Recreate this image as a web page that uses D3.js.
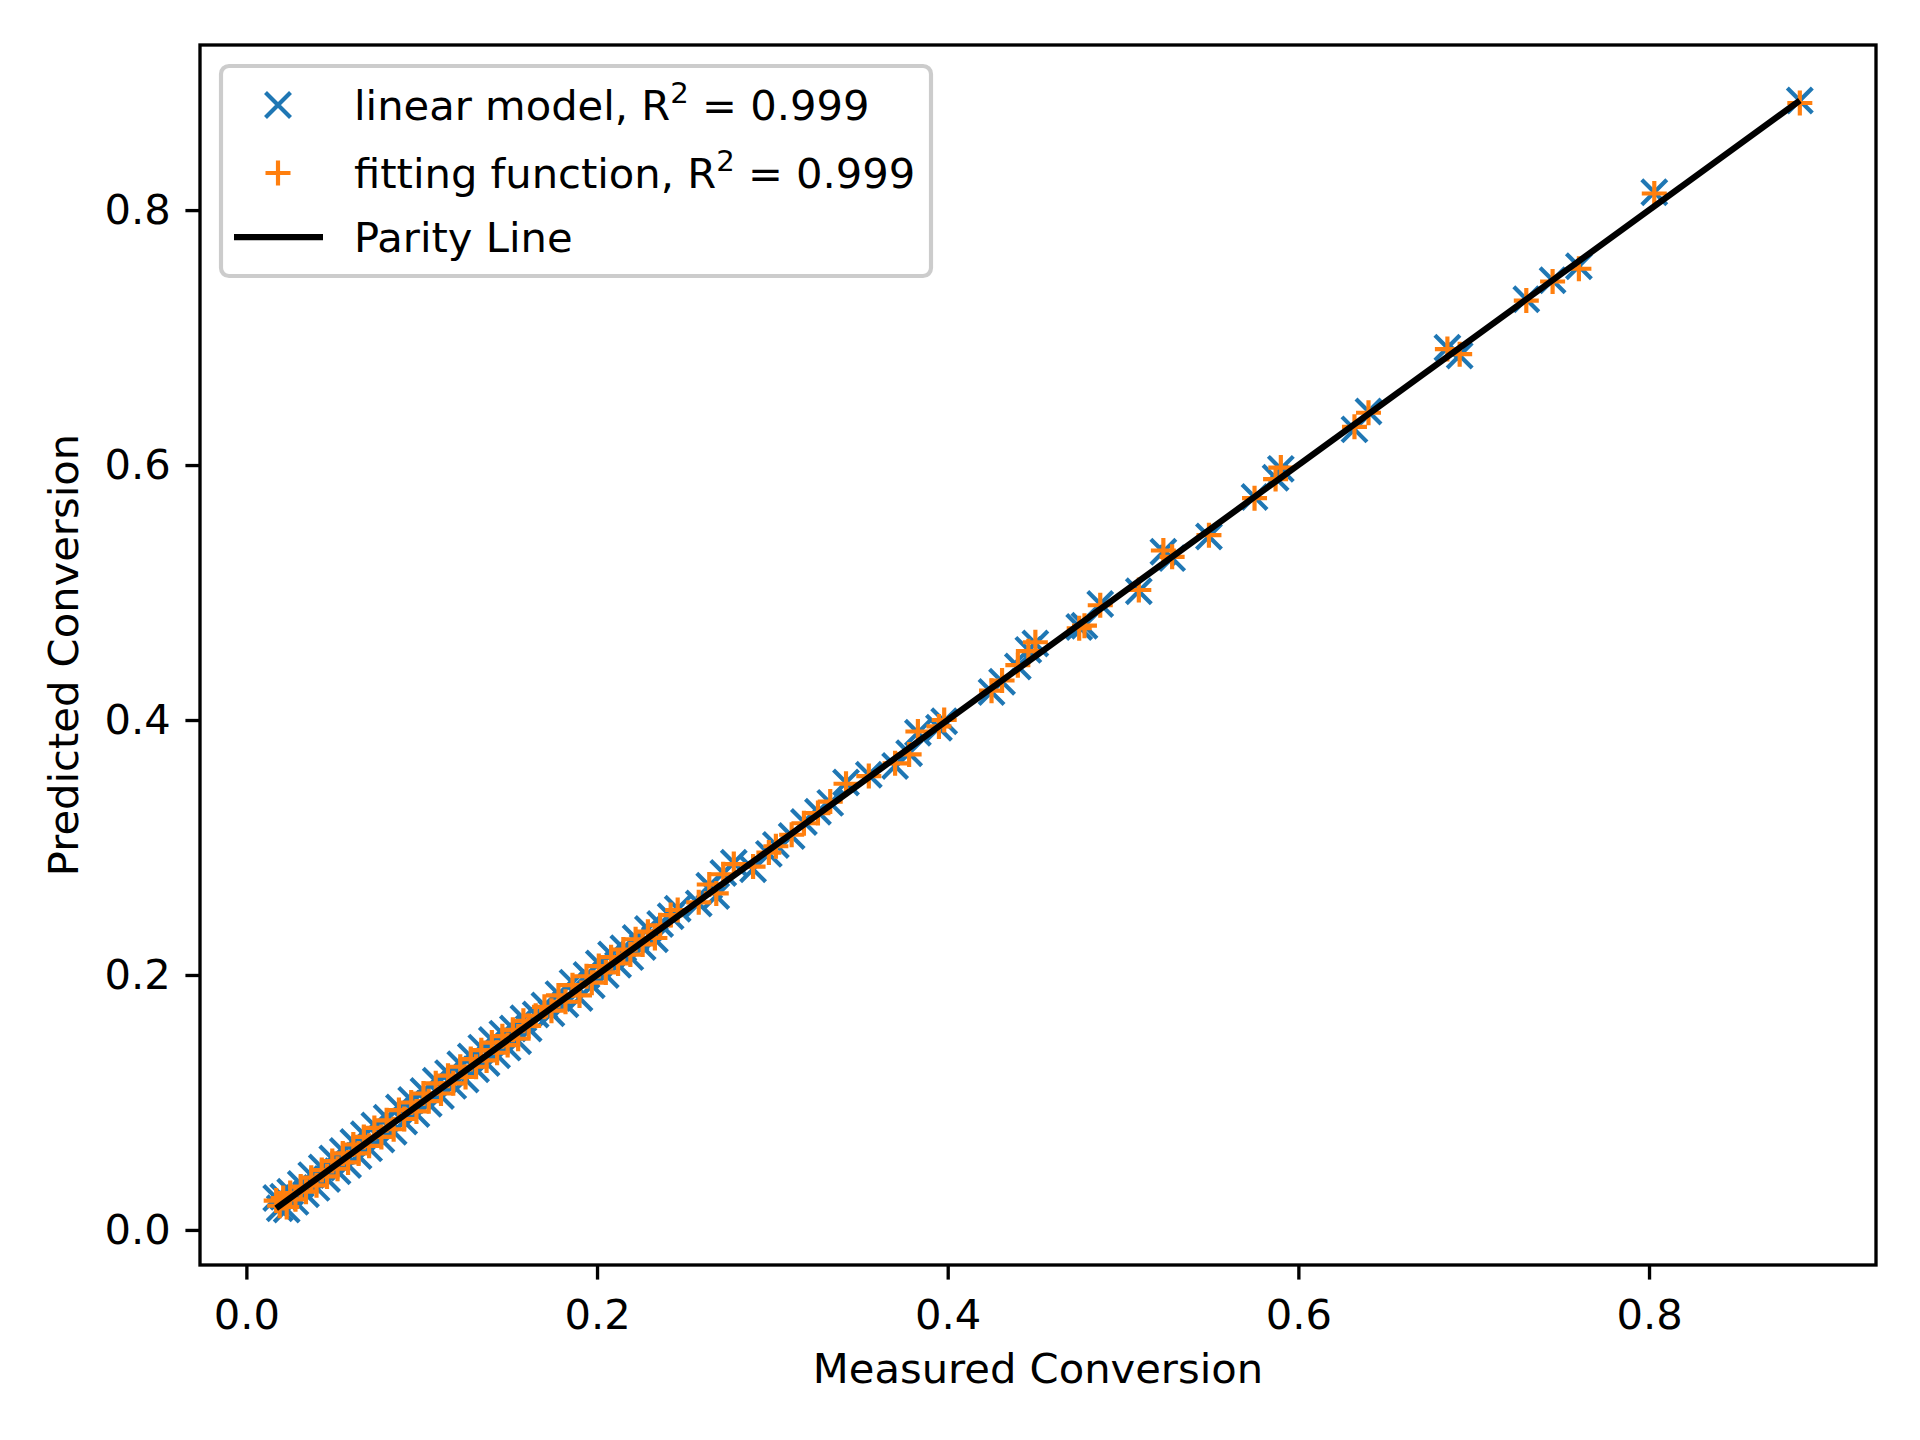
<!DOCTYPE html>
<html>
<head>
<meta charset="utf-8">
<script src="https://cdn.jsdelivr.net/npm/d3@7"></script>
<style>
  body { margin: 0; background: #fff; }
  text { font-family: "DejaVu Sans", sans-serif; fill: #000; }
</style>
</head>
<body>
<div id="chart"></div>
<script>
// Measured conversion (x) and the two predictions (y)
const measured = [
  0.886, 0.803, 0.760, 0.745, 0.730, 0.692, 0.685, 0.640, 0.632, 0.590,
  0.587, 0.575, 0.549, 0.528, 0.523, 0.509, 0.487, 0.478, 0.475, 0.450,
  0.446, 0.440, 0.431, 0.425, 0.398, 0.395, 0.383, 0.378, 0.370, 0.355,
  0.342, 0.333, 0.326, 0.318, 0.311, 0.302, 0.298, 0.289, 0.278, 0.272,
  0.264, 0.268, 0.258, 0.246, 0.242,
  0.236, 0.233, 0.229, 0.226, 0.222, 0.219, 0.215, 0.212, 0.208, 0.205,
  0.201, 0.197, 0.194, 0.190, 0.186, 0.182, 0.178, 0.174, 0.170, 0.165,
  0.161, 0.158, 0.155, 0.152, 0.149, 0.146, 0.143, 0.140, 0.137, 0.134,
  0.131, 0.128, 0.125, 0.122, 0.118, 0.115, 0.111, 0.108, 0.104, 0.101,
  0.097, 0.094, 0.090, 0.087, 0.084, 0.080, 0.077, 0.073, 0.070, 0.067,
  0.064, 0.061, 0.058, 0.055, 0.052, 0.049, 0.046, 0.043, 0.040, 0.037,
  0.034, 0.031, 0.028, 0.025, 0.023, 0.021, 0.019, 0.017
];
const linearPred = [
  0.886, 0.814, 0.756, 0.745, 0.730, 0.686, 0.692, 0.642, 0.628, 0.597,
  0.590, 0.575, 0.544, 0.527, 0.532, 0.501, 0.491, 0.474, 0.473, 0.460,
  0.455, 0.442, 0.430, 0.422, 0.399, 0.394, 0.390, 0.374, 0.364, 0.357,
  0.351, 0.335, 0.328, 0.320, 0.309, 0.302, 0.295, 0.283, 0.288, 0.280,
  0.270, 0.262, 0.256, 0.252, 0.246,
  0.240, 0.228, 0.236, 0.222, 0.229, 0.214, 0.221, 0.208, 0.216, 0.200,
  0.209, 0.192, 0.200, 0.182, 0.194, 0.177, 0.185, 0.170, 0.176, 0.169,
  0.158, 0.166, 0.148, 0.158, 0.143, 0.154, 0.137, 0.149, 0.131, 0.143,
  0.126, 0.136, 0.118, 0.130, 0.113, 0.123, 0.105, 0.117, 0.099, 0.109,
  0.091, 0.102, 0.085, 0.096, 0.077, 0.088, 0.071, 0.082, 0.064, 0.075,
  0.058, 0.069, 0.051, 0.062, 0.046, 0.056, 0.040, 0.049, 0.033, 0.043,
  0.028, 0.036, 0.022, 0.030, 0.016, 0.026, 0.017, 0.025
];
const fittingPred = [
  0.884, 0.813, 0.754, 0.744, 0.729, 0.687, 0.691, 0.641, 0.630, 0.598,
  0.589, 0.574, 0.545, 0.528, 0.533, 0.502, 0.490, 0.474, 0.472, 0.461,
  0.454, 0.443, 0.431, 0.423, 0.400, 0.395, 0.391, 0.373, 0.366, 0.356,
  0.350, 0.336, 0.327, 0.319, 0.310, 0.301, 0.296, 0.285, 0.287, 0.279,
  0.271, 0.264, 0.257, 0.251, 0.247,
  0.239, 0.229, 0.234, 0.224, 0.228, 0.216, 0.220, 0.209, 0.214, 0.202,
  0.207, 0.194, 0.199, 0.184, 0.192, 0.179, 0.184, 0.172, 0.175, 0.168,
  0.160, 0.164, 0.150, 0.157, 0.145, 0.152, 0.139, 0.147, 0.133, 0.141,
  0.128, 0.134, 0.120, 0.128, 0.115, 0.121, 0.107, 0.115, 0.101, 0.107,
  0.093, 0.100, 0.087, 0.094, 0.079, 0.086, 0.073, 0.080, 0.066, 0.073,
  0.060, 0.067, 0.053, 0.060, 0.048, 0.054, 0.042, 0.047, 0.035, 0.041,
  0.030, 0.034, 0.024, 0.029, 0.018, 0.025, 0.019, 0.023
];
const xTicks = [0.0, 0.2, 0.4, 0.6, 0.8];
const yTicks = [0.0, 0.2, 0.4, 0.6, 0.8];
const legendLabels = ['linear model, R', 'fitting function, R', 'Parity Line'];
const rSquared = ['0.999', '0.999'];

const W = 1920, H = 1440;
const pt = 300 / 72;  // figure was saved at 300 dpi
const margin = { left: 200, right: 1876, top: 45, bottom: 1265 };
const blue = '#1f77b4', orange = '#ff7f0e';

const svg = d3.select('#chart').append('svg')
  .attr('width', W).attr('height', H)
  .style('background', '#fff');

// matplotlib-like 5% margins around the data
function padded(vals) {
  const [lo, hi] = d3.extent(vals);
  const m = (hi - lo) * 0.05;
  return [lo - m, hi + m];
}

const x = d3.scaleLinear().domain(padded(measured)).range([margin.left, margin.right]);
const y = d3.scaleLinear().domain(padded(linearPred.concat(fittingPred))).range([margin.bottom, margin.top]);

const points = measured.map((m, i) => ({ m, lin: linearPred[i], fit: fittingPred[i] }));

const ms = 3 * pt;     // marker half size (6pt marker)
const mew = 1 * pt;    // marker edge width

const crossPath = s => `M${-s},${-s}L${s},${s}M${-s},${s}L${s},${-s}`;
const plusPath = s => `M${-s},0L${s},0M0,${-s}L0,${s}`;

const plot = svg.append('g');
plot.append('clipPath').attr('id', 'clip').append('rect')
  .attr('x', margin.left).attr('y', margin.top)
  .attr('width', margin.right - margin.left).attr('height', margin.bottom - margin.top);

const inner = plot.append('g').attr('clip-path', 'url(#clip)');

// linear model (x markers)
inner.append('g').selectAll('path')
  .data(points).join('path')
  .attr('transform', d => `translate(${x(d.m)},${y(d.lin)})`)
  .attr('d', crossPath(ms))
  .attr('stroke', blue).attr('stroke-width', mew).attr('fill', 'none');

// fitting function (+ markers)
inner.append('g').selectAll('path')
  .data(points).join('path')
  .attr('transform', d => `translate(${x(d.m)},${y(d.fit)})`)
  .attr('d', plusPath(ms))
  .attr('stroke', orange).attr('stroke-width', mew).attr('fill', 'none');

// parity line
const ext = d3.extent(measured);
inner.append('path')
  .datum(ext)
  .attr('d', d3.line().x(d => x(d)).y(d => y(d)))
  .attr('stroke', '#000').attr('stroke-width', 1.5 * pt).attr('fill', 'none');

// axes
const tickLen = 3.5 * pt, tickPad = 3.5 * pt, fs = 10 * pt;
const xAxis = d3.axisBottom(x).tickValues(xTicks).tickFormat(d3.format('.1f'))
  .tickSize(tickLen).tickPadding(tickPad + 5);
const yAxis = d3.axisLeft(y).tickValues(yTicks).tickFormat(d3.format('.1f'))
  .tickSize(tickLen).tickPadding(tickPad);

const gx = svg.append('g').attr('transform', `translate(0,${margin.bottom})`).call(xAxis);
const gy = svg.append('g').attr('transform', `translate(${margin.left},0)`).call(yAxis);
[gx, gy].forEach(g => {
  g.select('.domain').remove();
  g.selectAll('.tick line').attr('stroke', '#000').attr('stroke-width', 0.8 * pt);
  g.selectAll('.tick text').attr('font-size', fs).attr('font-family', 'DejaVu Sans').attr('fill', '#000');
});

// frame
svg.append('rect')
  .attr('x', margin.left).attr('y', margin.top)
  .attr('width', margin.right - margin.left).attr('height', margin.bottom - margin.top)
  .attr('fill', 'none').attr('stroke', '#000').attr('stroke-width', 0.8 * pt);

// axis labels
svg.append('text')
  .attr('x', (margin.left + margin.right) / 2).attr('y', 1383)
  .attr('text-anchor', 'middle').attr('font-size', fs)
  .text('Measured Conversion');
svg.append('text')
  .attr('transform', `translate(78,${(margin.top + margin.bottom) / 2}) rotate(-90)`)
  .attr('text-anchor', 'middle').attr('font-size', fs)
  .text('Predicted Conversion');

// legend
const leg = svg.append('g');
leg.append('rect')
  .attr('x', 221).attr('y', 66).attr('width', 710).attr('height', 210)
  .attr('rx', 8).attr('fill', '#fff').attr('fill-opacity', 0.8)
  .attr('stroke', '#cccccc').attr('stroke-width', 1 * pt);

const rows = [105, 173, 237];
leg.append('path')
  .attr('transform', `translate(278,${rows[0]})`).attr('d', crossPath(ms))
  .attr('stroke', blue).attr('stroke-width', mew);
leg.append('path')
  .attr('transform', `translate(278,${rows[1]})`).attr('d', plusPath(ms))
  .attr('stroke', orange).attr('stroke-width', mew);
leg.append('line')
  .attr('x1', 234).attr('x2', 323).attr('y1', rows[2]).attr('y2', rows[2])
  .attr('stroke', '#000').attr('stroke-width', 1.5 * pt);

legendLabels.forEach((lbl, i) => {
  const t = leg.append('text')
    .attr('x', 354).attr('y', rows[i] + 15)
    .attr('font-size', fs);
  t.append('tspan').text(lbl);
  if (i < 2) {
    t.append('tspan').attr('font-size', fs * 0.7).attr('dy', -17).text('2');
    t.append('tspan').attr('dy', 17).text(' = ' + rSquared[i]);
  }
});
</script>
</body>
</html>
